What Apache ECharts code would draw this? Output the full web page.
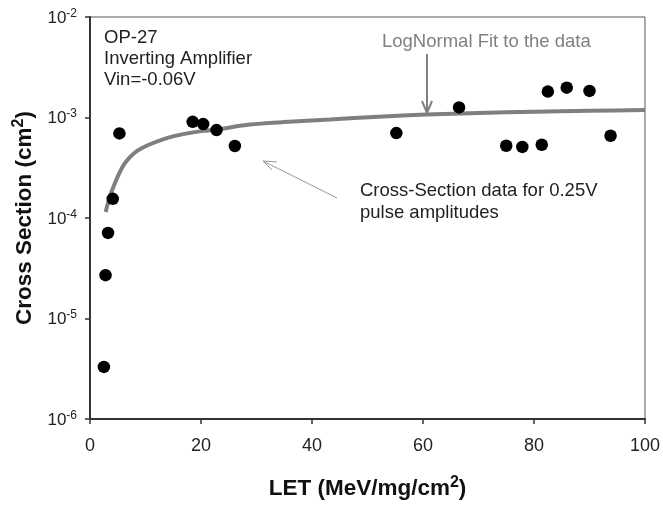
<!DOCTYPE html>
<html>
<head>
<meta charset="utf-8">
<script src="https://cdn.jsdelivr.net/npm/echarts@6/dist/echarts.min.js"></script>
<style>
html,body{margin:0;padding:0;background:#fff;}
#chart{width:663px;height:505px;}
</style>
</head>
<body>
<div id="chart"></div>
<script>
// Measured cross-section data points (LET, cross section)
const dataLET = [2.5, 2.8, 3.25, 4.1, 5.3, 18.5, 20.4, 22.8, 26.1, 55.2, 66.5, 75.0, 77.9, 81.4, 82.5, 85.9, 90.0, 93.8];
const dataXS  = [3.3e-6, 2.7e-5, 7.1e-5, 1.55e-4, 6.95e-4, 9.05e-4, 8.6e-4, 7.5e-4, 5.2e-4, 7.0e-4, 1.26e-3, 5.24e-4, 5.1e-4, 5.36e-4, 1.81e-3, 1.98e-3, 1.84e-3, 6.58e-4];
// LogNormal fit curve
const fitLET = [2.83, 3.3, 3.86, 4.6, 5.35, 6.2, 7.15, 8.5, 10.2, 12.5, 14.95, 17.5, 20.4, 22.8, 28.8, 35.0, 43.2, 52.0, 60.6, 70.0, 80.0, 90.0, 100.0];
const fitXS  = [1.15e-4, 1.45e-4, 1.81e-4, 2.3e-4, 2.85e-4, 3.45e-4, 4.02e-4, 4.65e-4, 5.24e-4, 5.9e-4, 6.48e-4, 6.95e-4, 7.36e-4, 7.6e-4, 8.5e-4, 9.0e-4, 9.55e-4, 1.02e-3, 1.07e-3, 1.11e-3, 1.14e-3, 1.165e-3, 1.19e-3];
const xTicks = [0, 20, 40, 60, 80, 100];
const yExponents = [-6, -5, -4, -3, -2];

const FONT = '"Liberation Sans", Arial, sans-serif';
const chart = echarts.init(document.getElementById('chart'), null, {renderer: 'canvas'});

const option = {
  animation: false,
  backgroundColor: '#fff',
  grid: {left: 90, right: 18, top: 17, bottom: 84, show: true, borderColor: '#555', borderWidth: 1, backgroundColor: 'transparent'},
  xAxis: {
    type: 'value', min: xTicks[0], max: xTicks[xTicks.length - 1], interval: 20,
    name: '{t|LET (MeV/mg/cm}{s|2}{t|)}',
    nameLocation: 'middle', nameGap: 56,
    nameTextStyle: {rich: {
      t: {fontFamily: FONT, fontWeight: 'bold', fontSize: 22.5, color: '#111', verticalAlign: 'bottom'},
      s: {fontFamily: FONT, fontWeight: 'bold', fontSize: 16, color: '#111', verticalAlign: 'top', padding: [0,0,9,0]}
    }},
    axisLine: {show: true, onZero: false, lineStyle: {color: '#333', width: 2}},
    axisTick: {show: true, inside: false, length: 5, lineStyle: {color: '#333', width: 1.5}},
    axisLabel: {fontFamily: FONT, fontSize: 18, color: '#222', margin: 18},
    splitLine: {show: false}
  },
  yAxis: {
    type: 'log', logBase: 10, min: Math.pow(10, yExponents[0]), max: Math.pow(10, yExponents[yExponents.length - 1]),
    name: '{t|Cross Section (cm}{s|2}{t|)}',
    nameLocation: 'middle', nameGap: 54, nameRotate: 90,
    nameTextStyle: {rich: {
      t: {fontFamily: FONT, fontWeight: 'bold', fontSize: 22.5, color: '#111', verticalAlign: 'bottom'},
      s: {fontFamily: FONT, fontWeight: 'bold', fontSize: 16, color: '#111', verticalAlign: 'top', padding: [0,0,9,0]}
    }},
    axisLine: {show: true, onZero: false, lineStyle: {color: '#333', width: 2}},
    axisTick: {show: true, inside: false, length: 5, lineStyle: {color: '#333', width: 1.5}},
    axisLabel: {
      margin: 13,
      formatter: function (v) {
        const e = Math.round(Math.log10(v));
        return '{b|10}{s|' + e + '}';
      },
      rich: {
        b: {fontFamily: FONT, fontSize: 17, color: '#222', verticalAlign: 'bottom'},
        s: {fontFamily: FONT, fontSize: 12, color: '#222', verticalAlign: 'top', padding: [0,0,7,0]}
      }
    },
    splitLine: {show: false},
    minorTick: {show: false}
  },
  series: [
    {
      name: 'LogNormal Fit', type: 'line', smooth: 0.3, showSymbol: false, symbol: 'none',
      data: fitLET.map((x, i) => [x, fitXS[i]]),
      lineStyle: {color: '#7f7f7f', width: 4},
      z: 2
    },
    {
      name: 'Cross-Section data', type: 'scatter', symbol: 'circle', symbolSize: 12.5,
      data: dataLET.map((x, i) => [x, dataXS[i]]),
      itemStyle: {color: '#000', opacity: 1},
      z: 3
    }
  ],
  graphic: [
    {type: 'text', left: 104, top: 27, style: {text: 'OP-27\nInverting Amplifier\nVin=-0.06V', font: '18.5px ' + FONT, fill: '#222', lineHeight: 21}},
    {type: 'text', left: 382, top: 31, style: {text: 'LogNormal Fit to the data', font: '18.5px ' + FONT, fill: '#808080', lineHeight: 21}},
    {type: 'line', shape: {x1: 427, y1: 54, x2: 427, y2: 113}, style: {stroke: '#808080', lineWidth: 2}},
    {type: 'polyline', shape: {points: [[422, 101], [427, 113], [432, 101]]}, style: {stroke: '#808080', lineWidth: 2, fill: null}},
    {type: 'text', left: 360, top: 180, style: {text: 'Cross-Section data for 0.25V\npulse amplitudes', font: '18.5px ' + FONT, fill: '#222', lineHeight: 22}},
    {type: 'line', shape: {x1: 337, y1: 198, x2: 263, y2: 161}, style: {stroke: '#999', lineWidth: 1}},
    {type: 'polyline', shape: {points: [[277, 162], [263, 161], [272, 170]]}, style: {stroke: '#999', lineWidth: 1, fill: null}}
  ]
};
chart.setOption(option);
</script>
</body>
</html>
